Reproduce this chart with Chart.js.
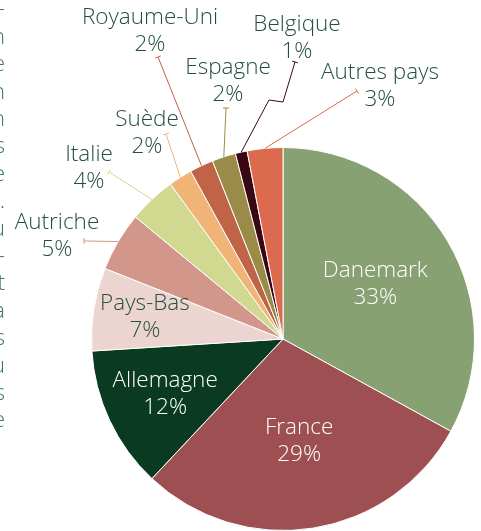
<!DOCTYPE html>
<html lang="fr">
<head>
<meta charset="utf-8">
<title>Répartition par pays</title>
<script src="https://cdn.jsdelivr.net/npm/chart.js@4.4.0/dist/chart.umd.min.js"></script>
<style>
    html, body { margin: 0; padding: 0; background: #ffffff; }
    #wrap { width: 481px; height: 531px; position: relative; overflow: hidden; }
</style>
</head>
<body>
<div id="wrap"><canvas id="shareChart" width="481" height="531"></canvas></div>
<script>
// Share of volume by country (%)
const countries = ['Danemark', 'France', 'Allemagne', 'Pays-Bas', 'Autriche', 'Italie',
    'Suède', 'Royaume-Uni', 'Espagne', 'Belgique', 'Autres pays'];
const shares = [33, 29, 12, 7, 5, 4, 2, 2, 2, 1, 3];
const sliceColors = ['#87a173', '#9e4f51', '#0b3a22', '#ecd5d1', '#d2968b', '#d0d98f',
    '#f0b477', '#bf6446', '#9a8c48', '#3a0812', '#dc6a4e'];

// labels placed inside the slice: distance from centre as a fraction of the radius
const insideLabels = [
    { idx: 0, r: 0.56, color: '#ffffff' },
    { idx: 1, r: 0.54, color: '#ffffff' },
    { idx: 2, r: 0.68, color: '#ffffff' },
    { idx: 3, r: 0.73, color: '#24503a' }
];

// labels outside the pie with a leader line back to the slice edge
const outsideLabels = [
    { idx: 4, x: 57, y: 223, end: [84, 241] },
    { idx: 5, x: 89, y: 155, end: [109, 172] },
    { idx: 6, x: 147, y: 120, end: [166, 134] },
    { idx: 7, x: 150, y: 18, end: [158, 57] },
    { idx: 8, x: 228, y: 68, end: [226, 108] },
    { idx: 9, x: 297, y: 25, end: [295, 62], bends: [[283, 102], [269, 100]] },
    { idx: 10, x: 380, y: 73, end: [357, 91] }
];

// cut-off letters of the neighbouring text column along the left edge
const edgeLetters = ['-', 'n', 'e', 'n', 'n', 's', 'e', '.', 'u', '-', 't', 'a', 's', 'u', 's', 'e'];

const FONT = '300 22.5px "Open Sans", "Noto Sans", sans-serif';
const LINE_GAP = 27;

function pct(v) { return v + '%'; }

const labelPlugin = {
    id: 'sliceLabels',
    afterDatasetsDraw(chart) {
        const ctx = chart.ctx;
        const arcs = chart.getDatasetMeta(0).data;
        ctx.save();
        ctx.font = FONT;
        ctx.textAlign = 'center';
        ctx.textBaseline = 'middle';

        insideLabels.forEach(l => {
            const a = arcs[l.idx];
            const mid = (a.startAngle + a.endAngle) / 2;
            const cx = a.x + Math.cos(mid) * a.outerRadius * l.r;
            const cy = a.y + Math.sin(mid) * a.outerRadius * l.r;
            ctx.fillStyle = l.color;
            ctx.fillText(countries[l.idx], cx, cy - LINE_GAP / 2);
            ctx.fillText(pct(shares[l.idx]), cx, cy + LINE_GAP / 2);
        });

        outsideLabels.forEach(l => {
            const a = arcs[l.idx];
            const mid = (a.startAngle + a.endAngle) / 2;
            const ex = a.x + Math.cos(mid) * a.outerRadius;
            const ey = a.y + Math.sin(mid) * a.outerRadius;

            ctx.strokeStyle = sliceColors[l.idx];
            ctx.lineWidth = 1;
            ctx.beginPath();
            ctx.moveTo(l.end[0], l.end[1]);
            (l.bends || []).forEach(p => ctx.lineTo(p[0], p[1]));
            ctx.lineTo(ex, ey);
            ctx.stroke();

            // small cap across the outer end of the leader
            const first = (l.bends && l.bends[0]) || [ex, ey];
            const ang = Math.atan2(first[1] - l.end[1], first[0] - l.end[0]) + Math.PI / 2;
            ctx.beginPath();
            ctx.moveTo(l.end[0] - Math.cos(ang) * 3, l.end[1] - Math.sin(ang) * 3);
            ctx.lineTo(l.end[0] + Math.cos(ang) * 3, l.end[1] + Math.sin(ang) * 3);
            ctx.stroke();

            ctx.fillStyle = '#24503a';
            ctx.fillText(countries[l.idx], l.x, l.y);
            ctx.fillText(pct(shares[l.idx]), l.x, l.y + LINE_GAP);
        });

        ctx.fillStyle = '#3d7a66';
        ctx.textAlign = 'right';
        edgeLetters.forEach((ch, i) => {
            ctx.fillText(ch, 5, 10 + i * 27.4);
        });
        ctx.restore();
    }
};

new Chart(document.getElementById('shareChart'), {
    type: 'pie',
    data: {
        labels: countries,
        datasets: [{
            data: shares,
            backgroundColor: sliceColors,
            borderColor: '#ffffff',
            borderWidth: 1
        }]
    },
    options: {
        responsive: false,
        animation: false,
        layout: { padding: { left: 91, right: 6, top: 147, bottom: 0 } },
        plugins: {
            legend: { display: false },
            tooltip: { enabled: false }
        }
    },
    plugins: [labelPlugin]
});
</script>
</body>
</html>
